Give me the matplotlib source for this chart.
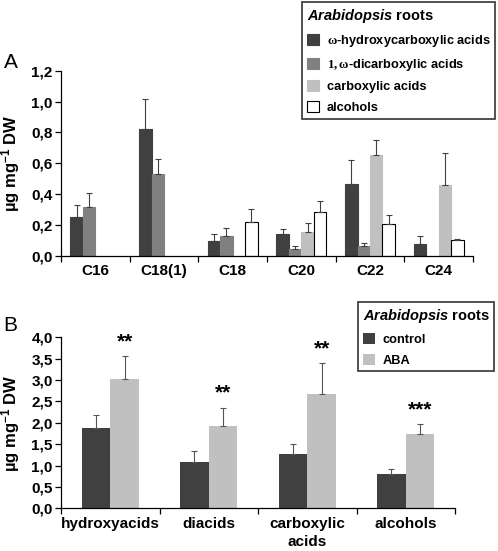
import numpy as np
import matplotlib
matplotlib.use("Agg")
import matplotlib.pyplot as plt
from matplotlib.patches import Patch

plt.rcParams['font.family'] = ['Liberation Sans', 'DejaVu Sans']
plt.rcParams['font.weight'] = 'bold'
plt.rcParams['mathtext.fontset'] = 'custom'
plt.rcParams['mathtext.rm'] = 'Liberation Serif'
plt.rcParams['mathtext.it'] = 'Liberation Sans:italic:bold'
plt.rcParams['mathtext.bf'] = 'Liberation Sans:bold'
plt.rcParams['mathtext.sf'] = 'Liberation Sans:bold'

# ---- Panel A data ----
chains = ["C16", "C18(1)", "C18", "C20", "C22", "C24"]
seriesA = [r"$\mathrm{\omega}$-hydroxycarboxylic acids",
           r"$\mathrm{1,\omega}$-dicarboxylic acids",
           "carboxylic acids", "alcohols"]
hydroxy = [0.25, 0.825, 0.10, 0.14, 0.466, 0.078]
hydroxy_err = [0.078, 0.19, 0.04, 0.033, 0.154, 0.049]
dicarb = [0.315, 0.531, 0.13, 0.047, 0.063, 0.0]
dicarb_err = [0.091, 0.095, 0.053, 0.016, 0.021, 0.0]
carbox = [0.0, 0.0, 0.0, 0.158, 0.652, 0.462]
carbox_err = [0.0, 0.0, 0.0, 0.054, 0.097, 0.203]
alcohol = [0.0, 0.0, 0.222, 0.287, 0.205, 0.106]
alcohol_err = [0.0, 0.0, 0.084, 0.071, 0.06, 0.006]
yticksA = [0.0, 0.2, 0.4, 0.6, 0.8, 1.0, 1.2]

# ---- Panel B data ----
classes = ["hydroxyacids", "diacids", "carboxylic\nacids", "alcohols"]
control = [1.879, 1.092, 1.279, 0.803]
control_err = [0.296, 0.241, 0.218, 0.109]
aba = [3.025, 1.934, 2.674, 1.731]
aba_err = [0.531, 0.413, 0.718, 0.234]
signif = ["**", "**", "**", "***"]
yticksB = [0.0, 0.5, 1.0, 1.5, 2.0, 2.5, 3.0, 3.5, 4.0]

fig = plt.figure(figsize=(4.98, 5.51), dpi=100)

def fmt(v):
    return f"{v:.1f}".replace(".", ",")

def style_axes(ax, n, ymax, yticks):
    ax.spines['top'].set_visible(False)
    ax.spines['right'].set_visible(False)
    ax.spines['left'].set_linewidth(0.9)
    ax.spines['bottom'].set_linewidth(0.9)
    ax.set_xlim(-0.5, n - 0.5)
    ax.set_ylim(0, ymax)
    ax.set_yticks(yticks)
    ax.set_yticklabels([fmt(v) for v in yticks], fontsize=11, fontweight='bold')
    ax.set_xticks(np.arange(n))
    ax.set_xticks(np.arange(n + 1) - 0.5, minor=True)
    ax.tick_params(axis='x', which='major', length=0, pad=6)
    ax.tick_params(axis='x', which='minor', length=4, width=0.9, direction='out')
    ax.tick_params(axis='y', length=4, width=0.9, direction='out', pad=2)

def make_legend(handles, labels, anchor):
    leg = fig.legend(handles, labels, loc='upper right', bbox_to_anchor=anchor,
                     title=r"$\mathit{Arabidopsis}$ roots", fontsize=9.2,
                     title_fontproperties={'size': 10.5, 'weight': 'bold'},
                     frameon=True, fancybox=False, edgecolor='black',
                     handlelength=0.95, handleheight=0.95, handletextpad=0.6,
                     labelspacing=0.62, borderpad=0.35, borderaxespad=0.0,
                     alignment='left')
    leg.get_frame().set_linewidth(1.2)
    for t in leg.get_texts():
        t.set_fontweight('bold')
    return leg

ylabel = r"µg mg$^{\mathsf{-1}}$ DW"

# Panel A
axA = fig.add_axes([0.1225, 0.5354, 0.8273, 0.3363])
x = np.arange(len(chains))
w = 0.182
colorsA = ['#404040', '#808080', '#c0c0c0', 'white']
edgesA = ['#404040', '#808080', '#c0c0c0', 'black']
valsA = [hydroxy, dicarb, carbox, alcohol]
errsA = [hydroxy_err, dicarb_err, carbox_err, alcohol_err]
for i, (vals, errs) in enumerate(zip(valsA, errsA)):
    pos = x + (i - 1.5) * w
    vals = np.array(vals)
    errs = np.array(errs)
    mask = vals > 0
    axA.bar(pos[mask], vals[mask], width=w, color=colorsA[i], edgecolor=edgesA[i],
            linewidth=0.8, zorder=2)
    axA.errorbar(pos[mask], vals[mask], yerr=[np.zeros(mask.sum()), errs[mask]],
                 fmt='none', ecolor='#404040', elinewidth=0.8, capsize=2.5,
                 capthick=0.8, zorder=3)
style_axes(axA, len(chains), 1.2, yticksA)
axA.set_xticklabels(chains, fontsize=11, fontweight='bold')
axA.set_ylabel(ylabel, fontsize=12, fontweight='bold', labelpad=7)
fig.text(0.008, 0.887, "A", fontsize=15, fontweight='normal', ha='left', va='center')

handlesA = [Patch(facecolor=colorsA[i], edgecolor=('black' if i == 3 else colorsA[i]),
                  linewidth=0.8) for i in range(4)]
make_legend(handlesA, seriesA, (0.994, 0.996))

# Panel B
axB = fig.add_axes([0.1225, 0.0775, 0.7912, 0.3103])
xb = np.arange(len(classes))
wb = 0.29
axB.bar(xb - wb / 2, control, width=wb, color='#404040', zorder=2)
axB.bar(xb + wb / 2, aba, width=wb, color='#c0c0c0', zorder=2)
axB.errorbar(xb - wb / 2, control, yerr=[np.zeros(len(control)), control_err],
             fmt='none', ecolor='#555555', elinewidth=0.8, capsize=2.5, capthick=0.8, zorder=3)
axB.errorbar(xb + wb / 2, aba, yerr=[np.zeros(len(aba)), aba_err],
             fmt='none', ecolor='#555555', elinewidth=0.8, capsize=2.5, capthick=0.8, zorder=3)
for xi, v, e, s in zip(xb, aba, aba_err, signif):
    axB.text(xi + wb / 2, v + e + 0.12, s, ha='center', va='bottom', fontsize=15,
             fontweight='bold')
style_axes(axB, len(classes), 4.0, yticksB)
axB.set_xticklabels(classes, fontsize=11, fontweight='bold', linespacing=1.4)
axB.set_ylabel(ylabel, fontsize=12, fontweight='bold', labelpad=7)
fig.text(0.006, 0.41, "B", fontsize=15, fontweight='normal', ha='left', va='center')

handlesB = [Patch(facecolor='#404040'), Patch(facecolor='#c0c0c0')]
make_legend(handlesB, ["control", "ABA"], (0.992, 0.451))

fig.savefig("out.png", dpi=100, facecolor='white')
